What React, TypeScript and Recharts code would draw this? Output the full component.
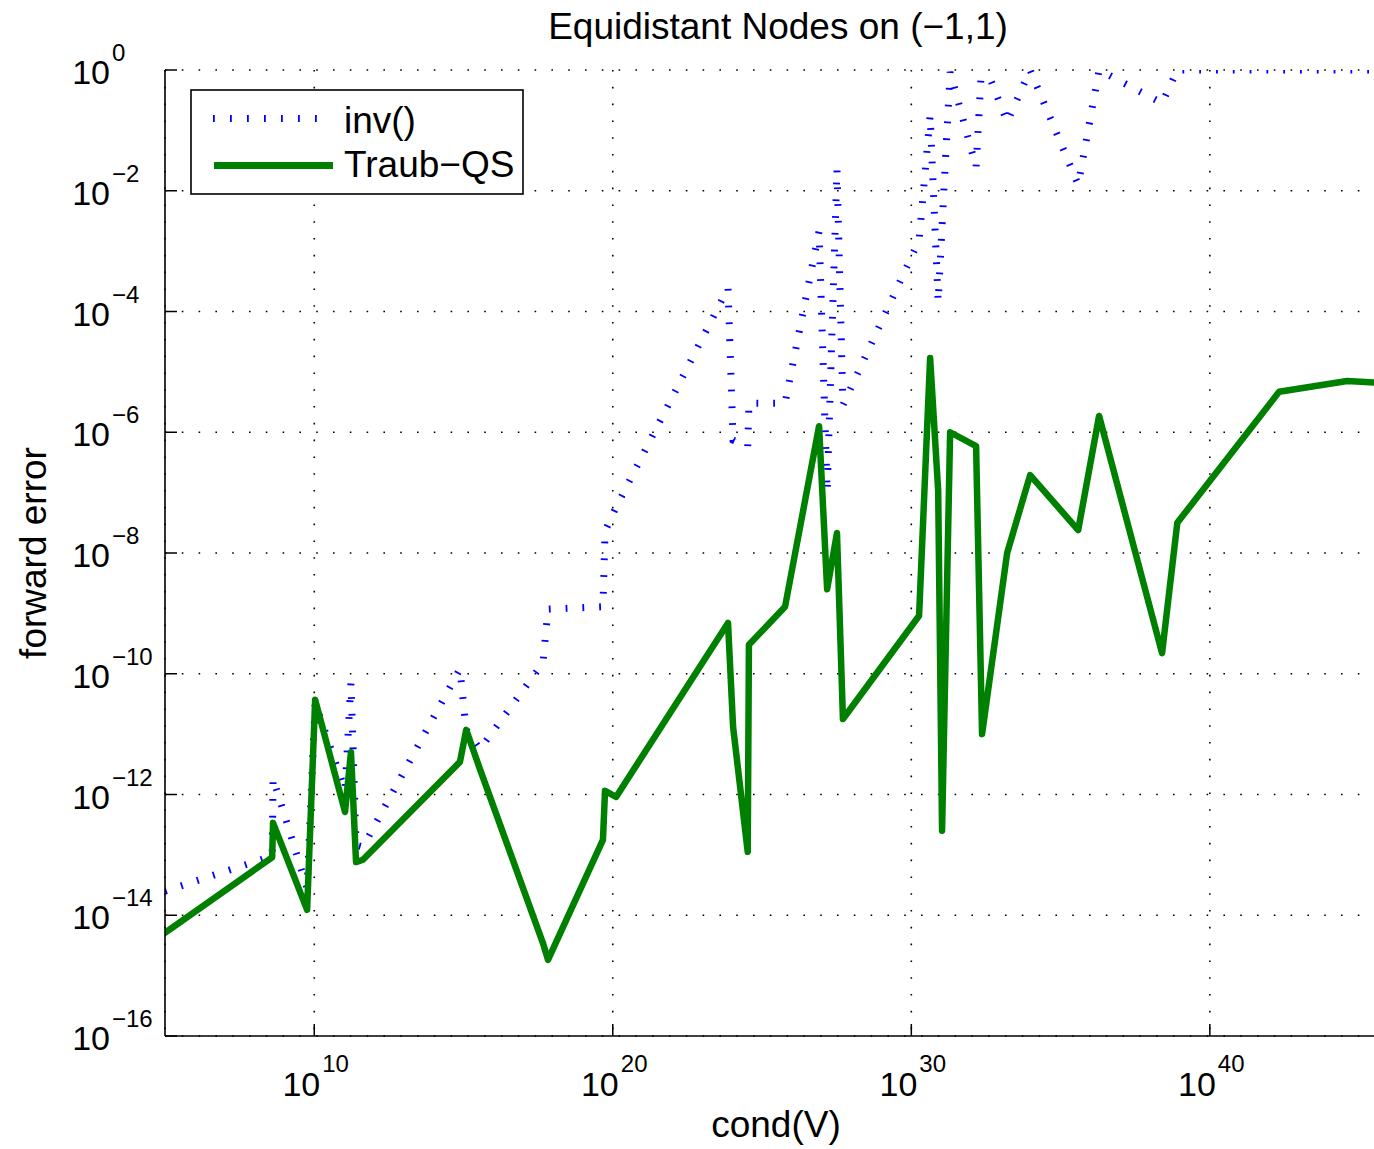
import { CartesianGrid, Line, LineChart, XAxis, YAxis } from "recharts";

// log10 of cond(V) for each sample
const condExp = [
  5.0, 8.59, 8.62, 9.76, 10.03, 11.03, 11.23, 11.4, 11.63, 14.88, 15.09, 15.55, 17.66, 17.83,
  19.67, 19.74, 20.11, 23.86, 24.03, 24.52, 24.56, 25.77, 26.91, 27.18, 27.51, 27.71, 30.26,
  30.63, 30.9, 31.03, 31.3, 32.17, 32.37, 33.21, 33.98, 35.59, 36.29, 38.4, 38.91, 42.32, 44.6,
  45.7,
];

// log10 of forward error, inv()
const invErrExp = [
  -13.6, -13.02, -11.73, -13.55, -10.48, -11.93, -10.15, -12.84, -12.87, -9.92, -10.93, -11.25,
  -9.82, -8.93, -8.89, -7.64, -7.24, -3.61, -6.13, -6.24, -5.52, -5.52, -2.67, -6.99, -1.64,
  -5.55, -2.82, -0.75, -3.84, -2.57, -0.03, -1.61, 0.2, -0.86, 0, -1.9, 0, -0.55, 0, 0, 0, 0,
];

// log10 of forward error, Traub-QS
const traubErrExp = [
  -14.29, -13.04, -12.47, -13.91, -10.43, -12.29, -11.3, -13.12, -13.08, -11.46, -10.93, -11.58,
  -14.46, -14.74, -12.75, -11.94, -12.04, -9.16, -10.88, -12.95, -9.52, -8.89, -5.9, -8.6, -7.67,
  -10.75, -9.04, -4.77, -6.97, -12.6, -6.0, -6.23, -11.0, -8.0, -6.71, -7.62, -5.73, -9.66, -7.5,
  -5.33, -5.15, -5.18,
];

const xTickExp = [10, 20, 30, 40];
const yTickExp = [0, -2, -4, -6, -8, -10, -12, -14, -16];

const chartData = condExp.map((c, i) => ({
  cond: 10 ** c,
  inv: 10 ** invErrExp[i],
  traub: 10 ** traubErrExp[i],
}));

const FONT = "'Liberation Sans', Arial, Helvetica, sans-serif";
const BLUE = "#0000ff";
const GREEN = "#008000";
const TICK_LEN = 12;

function supText(value: number) {
  const e = Math.round(Math.log10(value));
  return e < 0 ? `\u2212${-e}` : `${e}`;
}

function XTick(props: any) {
  const { x, y, payload } = props;
  return (
    <g>
      <line x1={x} x2={x} y1={y} y2={y - TICK_LEN} stroke="#000" strokeWidth={1.5} />
      <text x={x + 6} y={y + 60} textAnchor="end" fontSize={34} fontFamily={FONT} fill="#000">
        10
      </text>
      <text x={x + 8} y={y + 36} textAnchor="start" fontSize={24} fontFamily={FONT} fill="#000">
        {supText(payload.value)}
      </text>
    </g>
  );
}

function TopTick(props: any) {
  const { x, y } = props;
  return <line x1={x} x2={x} y1={y} y2={y + TICK_LEN} stroke="#000" strokeWidth={1.5} />;
}

function YTick(props: any) {
  const { x, y, payload } = props;
  return (
    <g>
      <line x1={x} x2={x + TICK_LEN} y1={y} y2={y} stroke="#000" strokeWidth={1.5} />
      <text x={110} y={y + 14} textAnchor="end" fontSize={34} fontFamily={FONT} fill="#000">
        10
      </text>
      <text x={112} y={y - 9} textAnchor="start" fontSize={24} fontFamily={FONT} fill="#000">
        {supText(payload.value)}
      </text>
    </g>
  );
}

export default function App() {
  const xDomain = [1e5, 10 ** 45.7];
  return (
    <div
      style={{
        position: "absolute",
        left: 0,
        top: 0,
        width: 1374,
        height: 1149,
        overflow: "hidden",
        background: "#fff",
      }}
    >
      <LineChart
        width={1380}
        height={1149}
        data={chartData}
        margin={{ top: 70, right: 0, left: 0, bottom: 0 }}
      >
        <CartesianGrid stroke="#000" strokeWidth={1.6} strokeDasharray="1.6 15.2" />
        <XAxis
          dataKey="cond"
          type="number"
          scale="log"
          domain={xDomain}
          allowDataOverflow
          ticks={xTickExp.map((e) => 10 ** e)}
          tick={<XTick />}
          tickLine={false}
          tickSize={0}
          tickMargin={0}
          height={113}
          axisLine={{ stroke: "#000", strokeWidth: 1.6 }}
        />
        <XAxis
          xAxisId="top"
          orientation="top"
          dataKey="cond"
          type="number"
          scale="log"
          domain={xDomain}
          allowDataOverflow
          ticks={xTickExp.map((e) => 10 ** e)}
          tick={<TopTick />}
          tickLine={false}
          tickSize={0}
          tickMargin={0}
          height={0}
          axisLine={{ stroke: "#000", strokeWidth: 1.6 }}
        />
        <YAxis
          type="number"
          scale="log"
          domain={[1e-16, 1]}
          allowDataOverflow
          ticks={yTickExp.map((e) => 10 ** e)}
          tick={<YTick />}
          tickLine={false}
          tickSize={0}
          tickMargin={0}
          width={165}
          axisLine={{ stroke: "#000", strokeWidth: 1.6 }}
        />
        <Line
          dataKey="inv"
          stroke={BLUE}
          strokeWidth={7}
          strokeDasharray="1.8 15"
          strokeLinecap="butt"
          dot={false}
          activeDot={false}
          isAnimationActive={false}
        />
        <Line
          dataKey="traub"
          stroke={GREEN}
          strokeWidth={6.5}
          strokeLinejoin="round"
          strokeLinecap="round"
          dot={false}
          activeDot={false}
          isAnimationActive={false}
        />
      </LineChart>

      <svg
        width={1374}
        height={1149}
        style={{ position: "absolute", left: 0, top: 0, pointerEvents: "none" }}
        fontFamily={FONT}
      >
        <text x={778} y={39} textAnchor="middle" fontSize={37}>
          Equidistant Nodes on (−1,1)
        </text>
        <text x={776} y={1137} textAnchor="middle" fontSize={37}>
          cond(V)
        </text>
        <text transform="rotate(-90)" x={-553} y={46} textAnchor="middle" fontSize={37}>
          forward error
        </text>

        <rect x={191} y={90} width={332} height={104} fill="#fff" stroke="#000" strokeWidth={1.6} />
        <line
          x1={213}
          x2={322}
          y1={118.5}
          y2={118.5}
          stroke={BLUE}
          strokeWidth={7}
          strokeDasharray="1.8 15.2"
        />
        <text x={344} y={133} fontSize={37}>
          inv()
        </text>
        <line x1={214} x2={333} y1={165.5} y2={165.5} stroke={GREEN} strokeWidth={7} />
        <text x={344} y={177} fontSize={37}>
          Traub−QS
        </text>
      </svg>
    </div>
  );
}
